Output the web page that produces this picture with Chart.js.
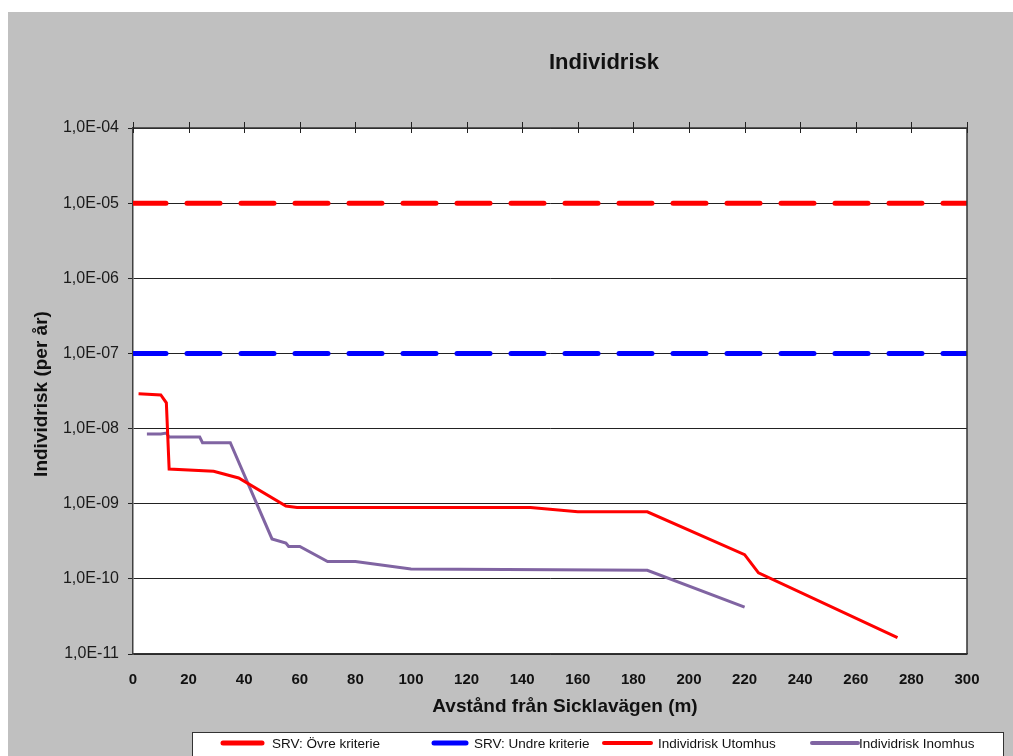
<!DOCTYPE html>
<html>
<head>
<meta charset="utf-8">
<script src="https://cdn.jsdelivr.net/npm/chart.js@4/dist/chart.umd.min.js"></script>
<style>
  body { margin: 0; background: #fff; }
  #riskChart { position: absolute; left: 8px; top: 12px; }
</style>
</head>
<body>
<canvas id="riskChart" width="1005" height="744"></canvas>
<script>
// --- Data ---
const xTicks = [0, 20, 40, 60, 80, 100, 120, 140, 160, 180, 200, 220, 240, 260, 280, 300];
const yTicks = [1e-11, 1e-10, 1e-9, 1e-8, 1e-7, 1e-6, 1e-5, 1e-4];

const criteriaX = [0, 300];
const overCriteria = [1e-5, 1e-5];
const underCriteria = [1e-7, 1e-7];

const utomhusX = [2, 10, 12, 13, 29, 38, 55, 59, 143, 160, 185, 220, 225, 275];
const utomhusY = [2.9e-8, 2.8e-8, 2.2e-8, 2.9e-9, 2.7e-9, 2.2e-9, 9.3e-10, 8.9e-10, 8.9e-10, 7.8e-10, 7.8e-10, 2.1e-10, 1.2e-10, 1.65e-11];

const inomhusX = [5, 10, 12, 13, 24, 25, 35, 50, 55, 56, 60, 70, 80, 100, 185, 220];
const inomhusY = [8.5e-9, 8.5e-9, 8.7e-9, 7.7e-9, 7.7e-9, 6.5e-9, 6.5e-9, 3.4e-10, 3.0e-10, 2.7e-10, 2.7e-10, 1.7e-10, 1.7e-10, 1.35e-10, 1.3e-10, 4.2e-11];

const toPoints = (xs, ys) => xs.map((x, i) => ({ x, y: ys[i] }));

const FONT = '"Liberation Sans", Arial, sans-serif';

// "1,0E-05" style labels
function expLabel(v) {
  const e = Math.round(Math.log10(v));
  const sign = e < 0 ? "-" : "+";
  return "1,0E" + sign + String(Math.abs(e)).padStart(2, "0");
}

// --- Custom drawing (background, frame, texts, legend) ---
const excelLook = {
  id: "excelLook",
  beforeDraw(chart) {
    const { ctx, chartArea: a } = chart;
    ctx.save();
    ctx.fillStyle = "#c0c0c0";
    ctx.fillRect(0, 0, chart.width, chart.height);
    ctx.fillStyle = "#fff";
    ctx.fillRect(a.left, a.top, a.right - a.left, a.bottom - a.top);
    ctx.restore();
  },
  afterDraw(chart) {
    const { ctx, chartArea: a } = chart;
    const xs = chart.scales.x;
    ctx.save();

    // frame top/right
    ctx.strokeStyle = "#333";
    ctx.lineWidth = 1.5;
    ctx.beginPath();
    ctx.moveTo(a.left, a.top);
    ctx.lineTo(a.right, a.top);
    ctx.lineTo(a.right, a.bottom);
    ctx.stroke();

    // tick marks along the top edge
    ctx.lineWidth = 1;
    ctx.strokeStyle = "#222";
    ctx.beginPath();
    xTicks.forEach(t => {
      const px = Math.round(xs.getPixelForValue(t)) + 0.5;
      ctx.moveTo(px, a.top - 6);
      ctx.lineTo(px, a.top + 5);
    });
    ctx.stroke();

    // titles
    ctx.fillStyle = "#111";
    ctx.textAlign = "center";
    ctx.textBaseline = "middle";
    ctx.font = "bold 22px " + FONT;
    ctx.fillText("Individrisk", 596, 51);
    ctx.font = "bold 19px " + FONT;
    ctx.fillText("Avstånd från Sicklavägen (m)", 557, 695);
    ctx.save();
    ctx.translate(34, 382);
    ctx.rotate(-Math.PI / 2);
    ctx.fillText("Individrisk (per år)", 0, 0);
    ctx.restore();

    // legend box
    ctx.fillStyle = "#fff";
    ctx.fillRect(184, 720, 811, 40);
    ctx.strokeStyle = "#333";
    ctx.lineWidth = 1;
    ctx.strokeRect(184.5, 720.5, 811, 40);

    const items = [
      { ds: 0, x1: 215, x2: 254, tx: 264, w: 5 },
      { ds: 1, x1: 426, x2: 458, tx: 466, w: 5 },
      { ds: 2, x1: 596, x2: 643, tx: 650, w: 4 },
      { ds: 3, x1: 804, x2: 850, tx: 851, w: 4 }
    ];
    ctx.font = "13.5px " + FONT;
    ctx.textAlign = "left";
    items.forEach(it => {
      const d = chart.data.datasets[it.ds];
      ctx.strokeStyle = d.borderColor;
      ctx.lineWidth = it.w;
      ctx.lineCap = "round";
      ctx.beginPath();
      ctx.moveTo(it.x1, 731);
      ctx.lineTo(it.x2, 731);
      ctx.stroke();
      ctx.fillStyle = "#111";
      ctx.fillText(d.label, it.tx, 732);
    });
    ctx.restore();
  }
};

// --- Chart ---
const canvas = document.getElementById("riskChart");
const riskChart = new Chart(canvas, {
  type: "line",
  data: {
    datasets: [
      {
        label: "SRV: Övre kriterie",
        data: toPoints(criteriaX, overCriteria),
        borderColor: "#ff0000",
        borderWidth: 5,
        borderDash: [33, 21],
        borderCapStyle: "round",
        pointRadius: 0
      },
      {
        label: "SRV: Undre kriterie",
        data: toPoints(criteriaX, underCriteria),
        borderColor: "#0000ff",
        borderWidth: 5,
        borderDash: [33, 21],
        borderCapStyle: "round",
        pointRadius: 0
      },
      {
        label: "Individrisk Utomhus",
        data: toPoints(utomhusX, utomhusY),
        borderColor: "#ff0000",
        borderWidth: 3,
        pointRadius: 0,
        tension: 0
      },
      {
        label: "Individrisk Inomhus",
        data: toPoints(inomhusX, inomhusY),
        borderColor: "#8064a2",
        borderWidth: 3,
        pointRadius: 0,
        tension: 0
      }
    ]
  },
  options: {
    responsive: false,
    animation: false,
    layout: { padding: { top: 116, right: 46, left: 0, bottom: 0 } },
    plugins: {
      legend: { display: false },
      title: { display: false },
      tooltip: { enabled: false }
    },
    scales: {
      x: {
        type: "linear",
        min: 0,
        max: 300,
        afterFit: s => { s.height = 102; },
        afterBuildTicks: s => { s.ticks = xTicks.map(v => ({ value: v })); },
        grid: { display: false },
        border: { display: true, color: "#333", width: 1.5 },
        ticks: {
          padding: 9,
          color: "#111",
          font: { family: FONT, size: 15, weight: "bold" },
          maxRotation: 0,
          autoSkip: false
        }
      },
      y: {
        type: "logarithmic",
        min: 1e-11,
        max: 1e-4,
        afterFit: s => { s.width = 125; },
        afterBuildTicks: s => { s.ticks = yTicks.map(v => ({ value: v, major: true })); },
        grid: { color: "#222", lineWidth: 1, tickLength: 5 },
        border: { display: true, color: "#404040", width: 1.5 },
        ticks: {
          padding: 9,
          color: "#1a1a1a",
          font: { family: FONT, size: 16 },
          callback: v => expLabel(v),
          autoSkip: false
        }
      }
    }
  },
  plugins: [excelLook]
});
</script>
</body>
</html>
